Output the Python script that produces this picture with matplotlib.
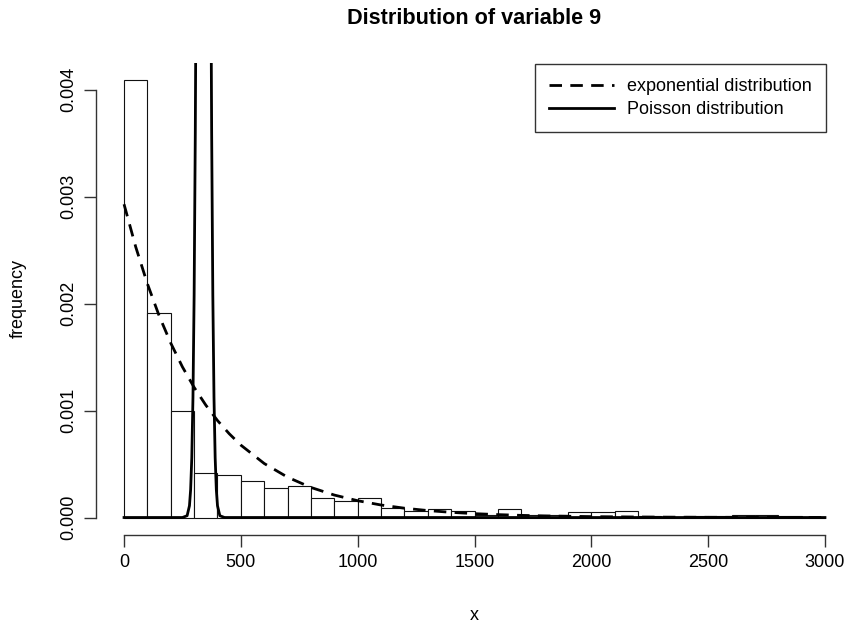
import matplotlib
matplotlib.use("Agg")
import matplotlib.pyplot as plt
from matplotlib.lines import Line2D

plt.rcParams['font.family'] = ['Liberation Sans', 'DejaVu Sans']

# ---- data ----
bin_edges = [0, 100, 200, 300, 400, 500, 600, 700, 800, 900, 1000,
             1100, 1200, 1300, 1400, 1500, 1600, 1700, 1800, 1900, 2000,
             2100, 2200, 2300, 2400, 2500, 2600, 2700, 2800, 2900, 3000]
bar_density = [0.00409, 0.001913, 0.00100, 0.000414, 0.000398, 0.000339,
               0.000277, 0.000293, 0.000187, 0.000152, 0.000187, 0.000093,
               0.000059, 0.000078, 0.000060, 0.000028, 0.000075, 0.000019,
               0.000028, 0.000047, 0.000047, 0.000059, 0.000016, 0.000005,
               0.000016, 0.000016, 0.000028, 0.000028, 0.000016, 0.000008]

exp_x = [0, 50, 100, 150, 200, 250, 300, 350, 400, 450, 500, 600, 700, 800,
         900, 1000, 1100, 1200, 1300, 1400, 1500, 1600, 1700, 1800, 2000,
         2200, 2500, 3000]
exp_y = [0.00293, 0.002531, 0.002186, 0.001888, 0.001631, 0.001408, 0.001217,
         0.001051, 0.000907, 0.000784, 0.000677, 0.000505, 0.000377, 0.000281,
         0.000210, 0.000157, 0.000117, 0.000087, 0.000065, 0.0000485, 0.000036,
         0.000027, 0.000020, 0.000015, 0.0000083, 0.0000046, 0.0000019, 0.0000005]

pois_x = [0, 250, 270, 280, 285, 290, 295, 300, 305, 310, 315, 320, 330, 340,
          350, 360, 365, 370, 375, 380, 385, 390, 395, 400, 410, 430, 3000]
pois_y = [0.0, 0.0, 0.000017, 0.00011, 0.00026, 0.00056, 0.00112, 0.00208,
          0.0036, 0.0058, 0.0087, 0.0120, 0.0186, 0.0216, 0.0186, 0.0120,
          0.0087, 0.0058, 0.0036, 0.00208, 0.00112, 0.00056, 0.00026, 0.00011,
          0.000017, 0.0, 0.0]

title = "Distribution of variable 9"
xlabel = "x"
ylabel = "frequency"
legend_labels = ["exponential distribution", "Poisson distribution"]
xticks = [0, 500, 1000, 1500, 2000, 2500, 3000]
yticks = [0.000, 0.001, 0.002, 0.003, 0.004]

# ---- figure ----
W, H = 850, 630
fig = plt.figure(figsize=(8.5, 6.3), dpi=100)
L, R, T, B = 96, 853, 62.7, 535
ax = fig.add_axes([L / W, 1 - B / H, (R - L) / W, (B - T) / H])

ymax = max(bar_density)
ax.set_xlim(-0.04 * 3000, 3000 * 1.04)
ax.set_ylim(-0.04 * ymax, 1.04 * ymax)

widths = [bin_edges[i + 1] - bin_edges[i] for i in range(len(bar_density))]
ax.bar(bin_edges[:-1], bar_density, width=widths, align='edge',
       facecolor='white', edgecolor='#111111', linewidth=0.8, zorder=1)

dash = (0, (4.5, 3))
ax.plot(exp_x, exp_y, color='black', linestyle=dash, linewidth=2.0,
        zorder=3)
ax.plot(pois_x, pois_y, color='black', linestyle='-', linewidth=2.0, zorder=3)

base = 13
for s in ['top', 'right']:
    ax.spines[s].set_visible(False)
ax.spines['left'].set_bounds(0, 0.004)
ax.spines['bottom'].set_bounds(0, 3000)
for s in ['left', 'bottom']:
    ax.spines[s].set_linewidth(1.0)
    ax.spines[s].set_color('#333333')

ax.set_xticks(xticks)
ax.set_xticklabels([str(v) for v in xticks], fontsize=base)
ax.set_yticks(yticks)
ax.set_yticklabels(["%.3f" % v for v in yticks], fontsize=base,
                   rotation=90, va='center')
ax.tick_params(axis='both', length=8.5, width=1.0, color='#333333', pad=5)

fig.text((L + R) / 2 / W, 1 - 18 / H, title, ha='center', va='center',
         fontsize=base * 1.2, fontweight='bold')
fig.text((L + R) / 2 / W, 1 - 615 / H, xlabel, ha='center', va='center',
         fontsize=base)
fig.text(18 / W, 1 - (T + B) / 2 / H, ylabel, ha='center', va='center',
         rotation=90, fontsize=base)

handles = [Line2D([], [], color='black', linestyle=dash, linewidth=2.0),
           Line2D([], [], color='black', linestyle='-', linewidth=2.0)]
leg = fig.legend(handles, legend_labels, loc='upper left',
                 bbox_to_anchor=(535 / W, 1 - 64 / H), fontsize=base,
                 frameon=True, fancybox=False, edgecolor='black',
                 borderaxespad=0, handlelength=3.6, handletextpad=0.7,
                 borderpad=0.8, labelspacing=0.3)
leg.get_frame().set_linewidth(1.0)

fig.savefig("out.png", dpi=100, facecolor='white')
